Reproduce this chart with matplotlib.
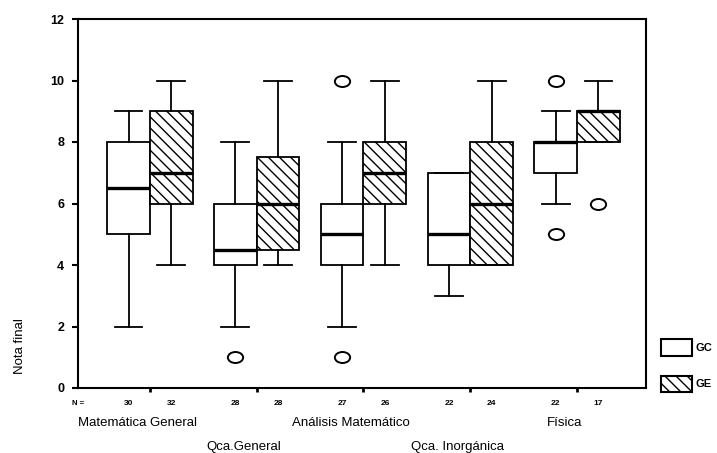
import matplotlib
matplotlib.use("Agg")
import matplotlib.pyplot as plt
from matplotlib.path import Path
from matplotlib.patches import Rectangle
import matplotlib.transforms as mtransforms

plt.rcParams['font.family'] = ['Liberation Sans', 'DejaVu Sans']
plt.rcParams['hatch.linewidth'] = 1.0

# ---- data ----
subjects = ["Matemática General", "Qca.General", "Análisis Matemático",
            "Qca. Inorgánica", "Física"]
groups = ["GC", "GE"]
n_gc = [30, 28, 27, 22, 22]
n_ge = [32, 28, 26, 24, 17]

gc_whislo = [2, 2, 2, 3, 6]
gc_q1 = [5, 4, 4, 4, 7]
gc_med = [6.5, 4.5, 5, 5, 8]
gc_q3 = [8, 6, 6, 7, 8]
gc_whishi = [9, 8, 8, 7, 9]
gc_fliers = [[], [1], [10, 1], [], [10, 5]]

ge_whislo = [4, 4, 4, 4, 8]
ge_q1 = [6, 4.5, 6, 4, 8]
ge_med = [7, 6, 7, 6, 9]
ge_q3 = [9, 7.5, 8, 8, 9]
ge_whishi = [10, 10, 10, 10, 10]
ge_fliers = [[], [], [], [], [6]]

yticks = [0, 2, 4, 6, 8, 10, 12]

# ---- figure ----
fig = plt.figure(figsize=(7.17, 4.53), dpi=100)
ax = fig.add_axes([78 / 717, 1 - 388 / 453, 568 / 717, 369 / 453])


def stats(wl, q1, med, q3, wh, fl):
    return [dict(whislo=a, q1=b, med=c, q3=d, whishi=e, fliers=f)
            for a, b, c, d, e, f in zip(wl, q1, med, q3, wh, fl)]


ell = Path.unit_circle().transformed(mtransforms.Affine2D().scale(1.0, 0.72))

common = dict(
    widths=0.40, patch_artist=True, capwidths=0.26,
    whiskerprops=dict(color='black', linewidth=1.3),
    capprops=dict(color='black', linewidth=1.3),
    medianprops=dict(color='black', linewidth=2.4, solid_capstyle='butt'),
    flierprops=dict(marker=ell, markersize=11, markerfacecolor='none',
                    markeredgecolor='black', markeredgewidth=1.4, linestyle='none'),
)

pos = list(range(1, len(subjects) + 1))
b1 = ax.bxp(stats(gc_whislo, gc_q1, gc_med, gc_q3, gc_whishi, gc_fliers),
            positions=[p - 0.2 for p in pos],
            boxprops=dict(facecolor='white', edgecolor='black', linewidth=1.3),
            **common)
b2 = ax.bxp(stats(ge_whislo, ge_q1, ge_med, ge_q3, ge_whishi, ge_fliers),
            positions=[p + 0.2 for p in pos],
            boxprops=dict(facecolor='white', edgecolor='black', linewidth=1.3,
                          hatch='\\\\\\'),
            **common)
for m in b1['medians'] + b2['medians']:
    m.set_zorder(5)

ax.set_xlim(0.327, 5.645)
ax.set_ylim(0, 12)
ax.set_yticks(yticks)
ax.set_yticklabels([str(v) for v in yticks], fontsize=9, fontweight='bold')
ax.set_xticks(pos)
ax.set_xticklabels([])
ax.tick_params(axis='y', length=4, width=1.5, pad=6, direction='out')
ax.tick_params(axis='x', length=3, width=2, direction='out')
for s in ax.spines.values():
    s.set_linewidth(1.5)

ax.set_ylabel("Nota final", fontsize=9.5)
ax.yaxis.set_label_coords(-0.092, 0.115)

tr = ax.get_xaxis_transform()
ax.text(0.327, -0.041, "N =", transform=tr, ha='center', va='center',
        fontsize=5.5, fontweight='bold')
for i, p in enumerate(pos):
    ax.text(p - 0.2, -0.041, str(n_gc[i]), transform=tr, ha='center',
            va='center', fontsize=6, fontweight='bold')
    ax.text(p + 0.2, -0.041, str(n_ge[i]), transform=tr, ha='center',
            va='center', fontsize=6, fontweight='bold')
    yrow = -0.095 if i % 2 == 0 else -0.160
    ax.text(p - 0.12, yrow, subjects[i], transform=tr, ha='center',
            va='center', fontsize=9.5, clip_on=False)

# legend drawn by hand at right
fig.patches.append(Rectangle((661 / 717, 1 - 356 / 453), 31 / 717, 17 / 453,
                             transform=fig.transFigure, facecolor='white',
                             edgecolor='black', linewidth=1.5))
fig.patches.append(Rectangle((661 / 717, 1 - 392 / 453), 31 / 717, 16 / 453,
                             transform=fig.transFigure, facecolor='white',
                             edgecolor='black', linewidth=1.5, hatch='\\\\\\'))
fig.text(695 / 717, 1 - 348 / 453, groups[0], ha='left', va='center',
         fontsize=8, fontweight='bold')
fig.text(695 / 717, 1 - 384 / 453, groups[1], ha='left', va='center',
         fontsize=8, fontweight='bold')

fig.savefig("out.png", dpi=100)
